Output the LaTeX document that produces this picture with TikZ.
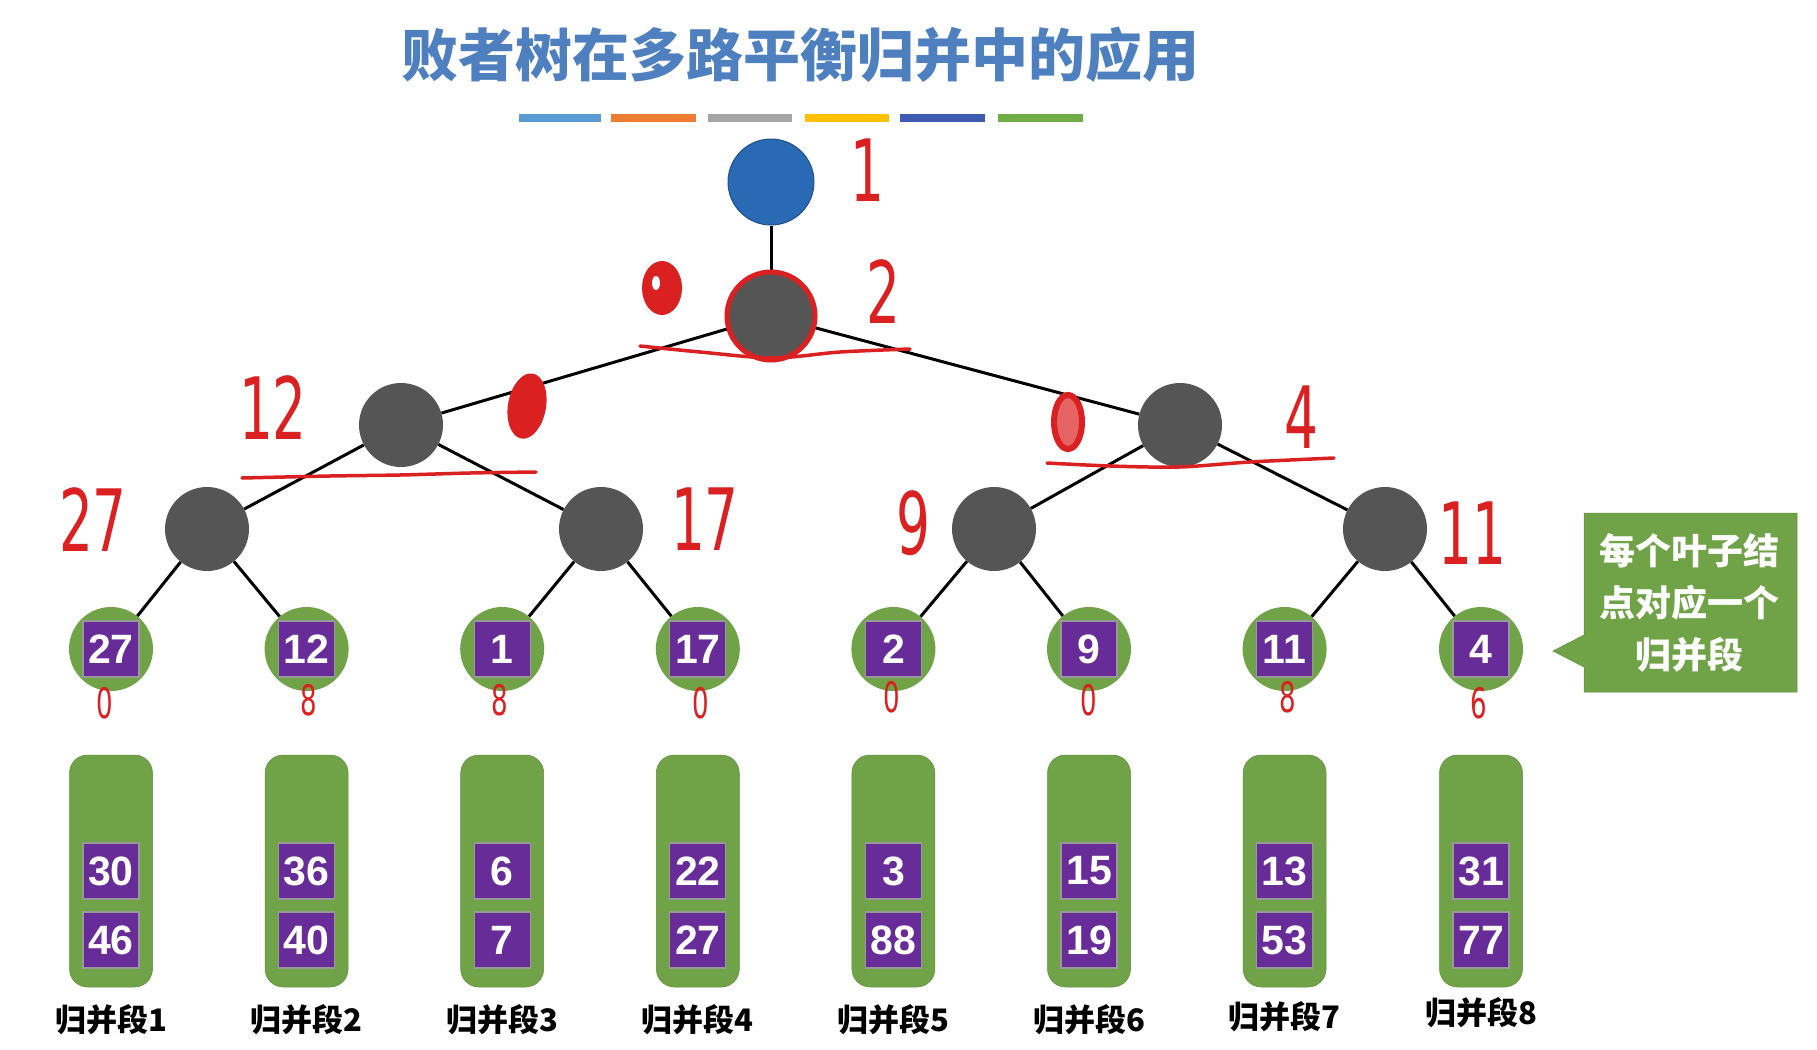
\documentclass[tikz,border=0pt]{standalone}
\usepackage{fontspec}
\setmainfont{Liberation Sans}
\newfontfamily\cjk{Noto Sans CJK SC}
\newfontfamily\handfont{DejaVu Sans}
\definecolor{tblue}{RGB}{78,128,192}
\definecolor{rootblue}{RGB}{42,106,180}
\definecolor{ngray}{RGB}{85,85,85}
\definecolor{lgreen}{RGB}{112,163,72}
\definecolor{lpurple}{RGB}{104,44,152}
\definecolor{hred}{RGB}{218,32,32}
\definecolor{barA}{RGB}{91,155,213}
\definecolor{barB}{RGB}{237,125,49}
\definecolor{barC}{RGB}{165,165,165}
\definecolor{barD}{RGB}{255,192,0}
\definecolor{barE}{RGB}{62,92,178}
\definecolor{barF}{RGB}{112,173,71}
\newcommand\hwtxt[1]{\scalebox{0.62}[1]{#1}}
\begin{document}
\begin{tikzpicture}[x=1pt,y=-1pt,
  inner/.style={circle,fill=ngray,minimum size=84pt,inner sep=0pt},
  rootnode/.style={circle,fill=rootblue,draw=rootblue!75!black,line width=1pt,minimum size=86pt,inner sep=0pt},
  leaf/.style={circle,fill=lgreen,minimum size=84pt,inner sep=0pt},
  numbox/.style={fill=lpurple,draw=gray!80,line width=1.2pt,minimum size=56pt,inner sep=0pt,text=white,font=\bfseries\fontsize{41}{41}\selectfont},
  segbox/.style={rounded corners=18pt,fill=lgreen,draw=lgreen!85!black,line width=0.5pt,minimum width=83pt,minimum height=232pt,inner sep=0pt},
  seglabel/.style={font=\cjk\bfseries\fontsize{31}{31}\selectfont,inner sep=0pt},
  edge/.style={line width=3pt,black},
  hw/.style={text=hred,font=\handfont\fontsize{86}{86}\selectfont,inner sep=0pt},
  hws/.style={text=hred,font=\handfont\fontsize{42}{42}\selectfont,inner sep=0pt},
  redpen/.style={draw=hred,line width=4pt,line cap=round,line join=round},
]
\useasboundingbox (0,0) rectangle (1817,1049);
\fill[white] (0,0) rectangle (1817,1049);

% title and colour bars
\node[font=\cjk\bfseries\fontsize{57}{57}\selectfont,text=tblue,inner sep=0pt] (title) at (800,55) {败者树在多路平衡归并中的应用};
\fill[barA] (519,114) rectangle (601,122);
\fill[barB] (611,114) rectangle (696,122);
\fill[barC] (708,114) rectangle (792,122);
\fill[barD] (805,114) rectangle (889,122);
\fill[barE] (900,114) rectangle (985,122);
\fill[barF] (998,114) rectangle (1083,122);

% tree nodes
\node[rootnode] (r) at (771,182) {};
\node[inner] (a) at (771,316) {};
\node[inner] (b1) at (401,425) {};
\node[inner] (b2) at (1180,425) {};
\node[inner] (c1) at (207,529) {};
\node[inner] (c2) at (601,529) {};
\node[inner] (c3) at (994,529) {};
\node[inner] (c4) at (1385,529) {};

% leaves and segments
\foreach \i/\x/\v/\p/\q/\ly in {1/111/27/30/46/1020, 2/306.6/12/36/40/1020, 3/502.2/1/6/7/1020, 4/697.8/17/22/27/1020, 5/893.4/2/3/88/1020, 6/1089/9/15/19/1020, 7/1284.6/11/13/53/1017, 8/1481/4/31/77/1013}{
  \node[leaf] (l\i) at (\x,649) {};
  \node[numbox] (k\i) at (l\i) {\v};
  \node[segbox] (s\i) at (\x,871) {};
  \node[numbox] (p\i) at (\x,871) {\p};
  \node[numbox] (q\i) at (\x,940) {\q};
  \node[seglabel] (t\i) at (\x,\ly) {归并段\i};
}

% edges
\draw[edge] (r) -- (a);
\draw[edge] (a) -- (b1);
\draw[edge] (a) -- (b2);
\draw[edge] (b1) -- (c1);
\draw[edge] (b1) -- (c2);
\draw[edge] (b2) -- (c3);
\draw[edge] (b2) -- (c4);
\draw[edge] (c1) -- (l1);
\draw[edge] (c1) -- (l2);
\draw[edge] (c2) -- (l3);
\draw[edge] (c2) -- (l4);
\draw[edge] (c3) -- (l5);
\draw[edge] (c3) -- (l6);
\draw[edge] (c4) -- (l7);
\draw[edge] (c4) -- (l8);

% callout
\path[fill=lgreen,draw=lgreen!85!black,line width=0.5pt] (1584,513) -- (1797,513) -- (1797,692) -- (1584,692) -- (1584,667) -- (1553,651) -- (1584,635) -- cycle;
\node[font=\cjk\bfseries\fontsize{36}{52}\selectfont,text=white,align=center,inner sep=0pt] (ct) at (1689,603) {每个叶子结\\点对应一个\\归并段};

% hand-written annotations
\draw[redpen,line width=5pt] (a.center) circle[radius=44pt];
\draw[redpen,line width=3.5pt] plot[smooth] coordinates {(640,346) (700,352) (773,358) (840,352) (910,349)};
\draw[redpen,line width=3.5pt] plot[smooth] coordinates {(242,478) (330,476) (400,475) (470,473) (536,472)};
\draw[redpen,line width=3.5pt] plot[smooth] coordinates {(1047,463) (1110,466) (1179,467) (1250,462) (1334,458)};
\fill[hred] (662,288) ellipse[x radius=20pt,y radius=27pt];
\fill[white] (656,283) ellipse[x radius=4pt,y radius=7pt];
\fill[hred,rotate around={-10:(527,406)}] (527,406) ellipse[x radius=19pt,y radius=33pt];
\draw[hred,line width=6pt,fill=hred!70] (1068,422) ellipse[x radius=14pt,y radius=27pt];

\node[hw] (h1) at (867,170) {\hwtxt{1}};
\node[hw] (h2) at (883,292) {\hwtxt{2}};
\node[hw] (h12) at (273,408) {\hwtxt{12}};
\node[hw] (h27) at (93,520) {\hwtxt{27}};
\node[hw] (h17) at (705,519) {\hwtxt{17}};
\node[hw] (h9) at (913,523) {\hwtxt{9}};
\node[hw] (h4) at (1301,417) {\hwtxt{4}};
\node[hw] (h11) at (1472,533) {\hwtxt{11}};

\node[hws] (u1) at (105,703) {\hwtxt{0}};
\node[hws] (u2) at (309,700) {\hwtxt{8}};
\node[hws] (u3) at (500,700) {\hwtxt{8}};
\node[hws] (u4) at (701,703) {\hwtxt{0}};
\node[hws] (u5) at (892,697) {\hwtxt{0}};
\node[hws] (u6) at (1089,700) {\hwtxt{0}};
\node[hws] (u7) at (1288,697) {\hwtxt{8}};
\node[hws] (u8) at (1479,703) {\hwtxt{6}};
\end{tikzpicture}
\end{document}
